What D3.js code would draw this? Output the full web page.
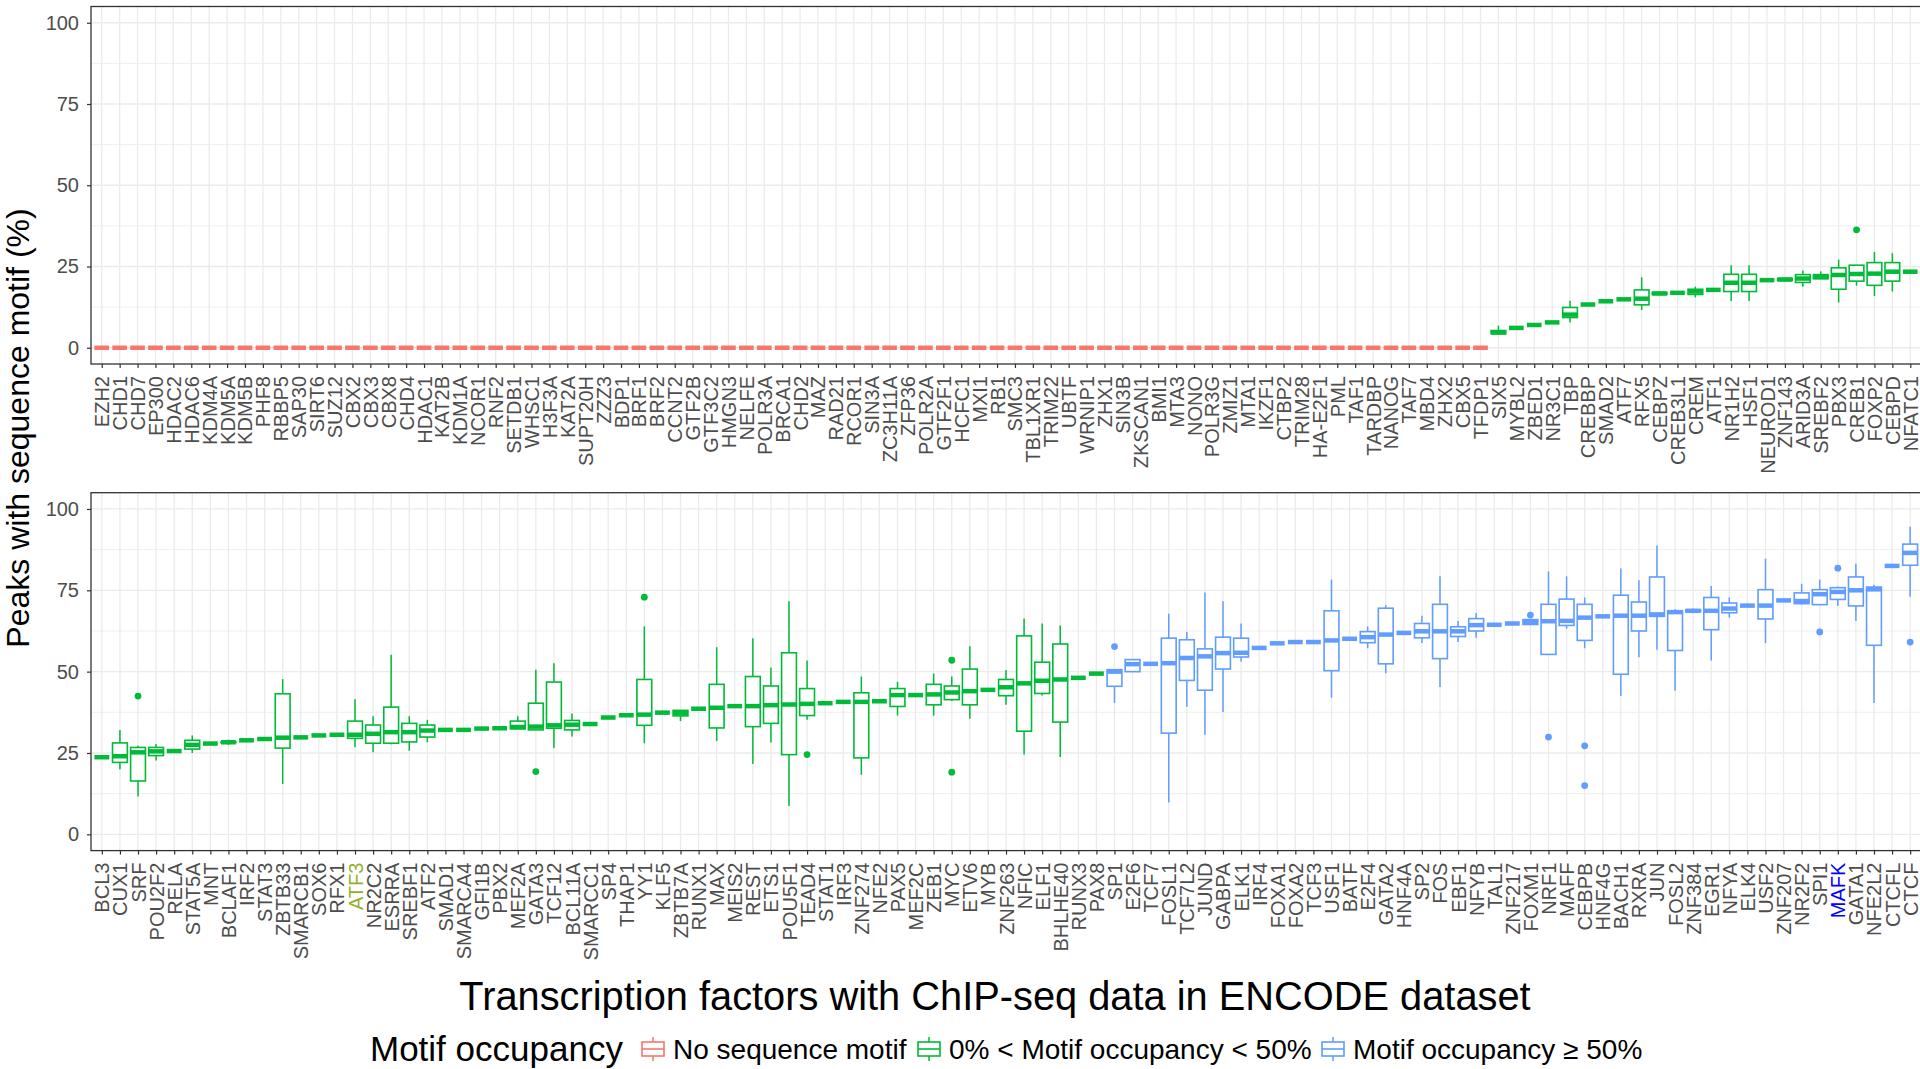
<!DOCTYPE html>
<html>
<head>
<meta charset="utf-8">
<script src="https://cdn.jsdelivr.net/npm/d3@7"></script>
<style>
body { margin: 0; background: #fff; }
svg text { font-family: "Liberation Sans", Arial, sans-serif; }
</style>
</head>
<body>
<svg id="chart" width="1920" height="1069"></svg>
<script>
// ---- data: top panel ----
var topNone = ["EZH2","CHD1","CHD7","EP300","HDAC2","HDAC6","KDM4A","KDM5A","KDM5B","PHF8","RBBP5","SAP30","SIRT6","SUZ12","CBX2","CBX3","CBX8","CHD4","HDAC1","KAT2B","KDM1A","NCOR1","RNF2","SETDB1","WHSC1","H3F3A","KAT2A","SUPT20H","ZZZ3","BDP1","BRF1","BRF2","CCNT2","GTF2B","GTF3C2","HMGN3","NELFE","POLR3A","BRCA1","CHD2","MAZ","RAD21","RCOR1","SIN3A","ZC3H11A","ZFP36","POLR2A","GTF2F1","HCFC1","MXI1","RB1","SMC3","TBL1XR1","TRIM22","UBTF","WRNIP1","ZHX1","SIN3B","ZKSCAN1","BMI1","MTA3","NONO","POLR3G","ZMIZ1","MTA1","IKZF1","CTBP2","TRIM28","HA-E2F1","PML","TAF1","TARDBP","NANOG","TAF7","MBD4","ZHX2","CBX5","TFDP1"];
var topNoneMed = [0,0,0,0,0,0,0,0,0,0,0,0,0,0,0,0,0,0,0,0,0,0,0,0,0,0,0,0,0,0,0,0,0,0,0,0,0,0,0,0,0,0,0,0,0,0,0,0,0,0,0,0,0,0,0,0,0,0,0,0,0,0,0,0,0,0,0,0,0,0,0,0,0,0,0,0,0,0];
var topLow = ["SIX5","MYBL2","ZBED1","NR3C1","TBP","CREBBP","SMAD2","ATF7","RFX5","CEBPZ","CREB3L1","CREM","ATF1","NR1H2","HSF1","NEUROD1","ZNF143","ARID3A","SREBF2","PBX3","CREB1","FOXP2","CEBPD","NFATC1"];
var topLowMed = [4.7,6.1,7.0,7.8,10.2,13.3,14.3,14.9,15.1,16.7,16.9,17.3,17.8,20.0,20.0,20.8,21.0,21.3,21.9,22.4,22.7,22.8,23.4,23.4];
// [lower whisker, q1, q3, upper whisker]
var topBoxes = {
  SIX5: [4.3, 4.3, 5.3, 6.8], TBP: [7.8, 9.3, 12.4, 14.5], RFX5: [11.6, 13.2, 17.8, 21.7],
  CEBPZ: [16.4, 16.4, 17.0, 17.0], CREM: [15.5, 16.4, 18.0, 18.8], NR1H2: [14.4, 17.3, 22.6, 25.4],
  HSF1: [14.4, 17.3, 22.6, 25.4], ZNF143: [20.4, 20.7, 21.3, 21.3], ARID3A: [18.8, 20.1, 22.5, 23.8],
  SREBF2: [21.2, 21.2, 22.5, 23.5], PBX3: [13.9, 18.0, 24.6, 27.1], CREB1: [19.1, 20.5, 25.4, 25.4],
  FOXP2: [15.9, 19.2, 26.2, 29.5], CEBPD: [17.3, 20.5, 26.2, 29.1]
};
var topOutliers = { CREB1: [36.3] };

// ---- data: bottom panel ----
var botLow = ["BCL3","CUX1","SRF","POU2F2","RELA","STAT5A","MNT","BCLAF1","IRF2","STAT3","ZBTB33","SMARCB1","SOX6","RFX1","ATF3","NR2C2","ESRRA","SREBF1","ATF2","SMAD1","SMARCA4","GFI1B","PBX2","MEF2A","GATA3","TCF12","BCL11A","SMARCC1","SP4","THAP1","YY1","KLF5","ZBTB7A","RUNX1","MAX","MEIS2","REST","ETS1","POU5F1","TEAD4","STAT1","IRF3","ZNF274","NFE2","PAX5","MEF2C","ZEB1","MYC","ETV6","MYB","ZNF263","NFIC","ELF1","BHLHE40","RUNX3","PAX8"];
var botLowMed = [23.7,24.0,25.2,25.5,25.6,27.5,27.9,28.3,28.9,29.3,29.7,29.8,30.4,30.6,30.6,30.9,31.4,31.4,31.9,32.1,32.1,32.5,32.6,33.0,33.1,33.5,33.7,33.9,35.9,36.6,36.8,37.4,37.3,38.6,38.9,39.4,39.4,39.7,39.9,40.1,40.3,40.7,40.7,40.9,42.8,42.8,43.0,43.6,44.0,44.4,45.2,46.4,47.2,47.6,48.1,49.4];
var botHigh = ["SP1","E2F6","TCF7","FOSL1","TCF7L2","JUND","GABPA","ELK1","IRF4","FOXA1","FOXA2","TCF3","USF1","BATF","E2F4","GATA2","HNF4A","SP2","FOS","EBF1","NFYB","TAL1","ZNF217","FOXM1","NRF1","MAFF","CEBPB","HNF4G","BACH1","RXRA","JUN","FOSL2","ZNF384","EGR1","NFYA","ELK4","USF2","ZNF207","NR2F2","SPI1","MAFK","GATA1","NFE2L2","CTCFL","CTCF"];
var botHighMed = [50.0,52.3,52.4,52.6,54.2,54.7,55.7,55.8,57.3,58.7,59.1,59.1,59.6,60.1,60.6,61.4,61.9,62.4,62.4,62.4,64.3,64.4,64.8,65.2,65.5,65.6,66.6,67.0,67.2,67.2,67.6,68.3,68.7,68.7,69.4,70.3,70.3,71.9,71.7,73.8,74.5,75.0,75.3,82.5,86.5];
var botBoxes = {
  CUX1: [20.0, 22.1, 28.1, 32.1], SRF: [11.6, 16.4, 26.7, 27.2], POU2F2: [22.7, 24.2, 26.7, 27.8],
  STAT5A: [25.0, 26.2, 28.9, 30.4], BCLAF1: [27.5, 28.2, 28.4, 29.1], ZBTB33: [15.5, 26.5, 43.2, 47.7],
  ATF3: [26.8, 29.5, 34.8, 41.5], NR2C2: [25.2, 28.0, 33.6, 36.3], ESRRA: [27.7, 28.0, 39.1, 55.2],
  SREBF1: [25.7, 28.4, 34.1, 36.3], ATF2: [28.3, 29.9, 33.6, 35.2], MEF2A: [32.4, 32.4, 34.8, 36.3],
  GATA3: [32.1, 32.1, 40.3, 50.6], TCF12: [26.5, 32.6, 46.8, 52.6], BCL11A: [30.1, 32.1, 35.0, 37.1],
  YY1: [28.0, 33.5, 47.6, 63.9], ZBTB7A: [34.8, 36.4, 38.1, 38.1], MAX: [28.7, 32.7, 46.1, 57.5],
  REST: [21.6, 33.1, 48.5, 60.3], ETS1: [28.2, 34.1, 45.6, 51.3], POU5F1: [8.7, 24.5, 55.8, 71.6],
  TEAD4: [35.2, 36.5, 44.8, 53.4], ZNF274: [18.3, 23.5, 43.5, 48.5], PAX5: [36.5, 39.3, 44.8, 46.9],
  ZEB1: [36.5, 39.8, 46.1, 49.4], MYC: [41.0, 41.4, 45.6, 48.5], ETV6: [35.5, 39.8, 50.8, 57.8],
  ZNF263: [39.8, 42.6, 47.6, 50.5], NFIC: [24.5, 31.7, 61.0, 66.3], ELF1: [42.7, 43.3, 52.9, 64.8],
  BHLHE40: [23.8, 34.5, 58.5, 64.2], SP1: [40.4, 45.5, 50.6, 50.6], E2F6: [50.0, 50.0, 53.7, 53.7],
  FOSL1: [9.8, 31.1, 60.3, 67.8], TCF7L2: [39.2, 47.3, 59.8, 62.2], JUND: [30.6, 44.3, 57.0, 74.3],
  GABPA: [37.6, 50.8, 60.6, 71.6], ELK1: [53.1, 54.5, 60.3, 64.8], USF1: [42.0, 50.3, 68.7, 78.3],
  E2F4: [57.2, 58.9, 62.3, 63.9], GATA2: [49.5, 52.4, 69.5, 70.4], SP2: [58.8, 60.4, 64.8, 67.2],
  FOS: [45.3, 54.0, 70.7, 79.3], EBF1: [59.1, 60.8, 63.8, 65.6], NFYB: [60.4, 62.5, 66.3, 68.0],
  FOXM1: [64.5, 64.5, 66.0, 66.0], NRF1: [55.3, 55.3, 70.7, 80.8], MAFF: [63.2, 64.2, 72.3, 79.3],
  CEBPB: [57.2, 59.6, 70.7, 72.8], BACH1: [42.5, 49.2, 73.5, 81.7], RXRA: [54.4, 62.5, 71.4, 78.1],
  JUN: [56.7, 67.0, 79.1, 88.8], FOSL2: [44.1, 56.5, 68.7, 69.2], ZNF384: [68.0, 68.4, 69.0, 69.4],
  EGR1: [53.4, 62.9, 72.8, 76.3], NFYA: [66.6, 68.1, 71.1, 72.8], USF2: [58.8, 66.2, 75.2, 84.7],
  NR2F2: [70.6, 70.9, 74.2, 77.0], SPI1: [70.6, 70.6, 75.2, 78.3], MAFK: [70.2, 72.2, 75.8, 76.2],
  GATA1: [65.6, 70.2, 79.1, 83.2], NFE2L2: [40.4, 58.1, 76.0, 76.7], CTCF: [73.0, 82.7, 89.2, 94.5]
};
var botOutliers = {
  SRF: [42.5], GATA3: [19.3], YY1: [72.9], TEAD4: [24.5], MYC: [53.5, 19.1], SP1: [57.7],
  FOXM1: [67.4], NRF1: [29.9], CEBPB: [27.2, 15.0], SPI1: [62.2], MAFK: [81.8], CTCF: [59.1]
};

var groupLabels = ["No sequence motif", "0% < Motif occupancy < 50%", "Motif occupancy \u2265 50%"];
var groupColors = ["#F8766D", "#00BA38", "#619CFF"];
var yTicks = [0, 25, 50, 75, 100];
var yMinor = [12.5, 37.5, 62.5, 87.5];
var labelColors = { ATF3: "#93B02A", MAFK: "#0000FF" };

var svg = d3.select("#chart");
var left = 91, right = 1921;

function drawPanel(groups, meds, boxes, outliers, top, bottom) {
  var names = [], rows = [];
  groups.forEach(function (g) {
    g.names.forEach(function (n, i) {
      names.push(n);
      rows.push({ name: n, med: meds[g.key][i], color: groupColors[g.key], box: boxes[n], out: outliers[n] || [] });
    });
  });

  var x = d3.scalePoint().domain(names).range([left, right]).padding(0.6);
  var y = d3.scaleLinear().domain([-5, 105]).range([bottom, top]);
  var bw = x.step() * 0.82;

  var g = svg.append("g");

  // grid
  g.selectAll(".minor").data(yMinor).enter().append("line")
    .attr("x1", left).attr("x2", right)
    .attr("y1", d => y(d)).attr("y2", d => y(d))
    .attr("stroke", "#EBEBEB").attr("stroke-width", 0.8);
  g.selectAll(".major").data(yTicks).enter().append("line")
    .attr("x1", left).attr("x2", right)
    .attr("y1", d => y(d)).attr("y2", d => y(d))
    .attr("stroke", "#EBEBEB").attr("stroke-width", 1.3);
  g.selectAll(".vgrid").data(names).enter().append("line")
    .attr("x1", d => x(d)).attr("x2", d => x(d))
    .attr("y1", top).attr("y2", bottom)
    .attr("stroke", "#EBEBEB").attr("stroke-width", 1.3);

  // boxes
  var b = g.selectAll(".box").data(rows).enter().append("g");
  b.filter(d => d.box).each(function (d) {
    var s = d3.select(this), cx = x(d.name);
    s.append("line").attr("x1", cx).attr("x2", cx)
      .attr("y1", y(d.box[3])).attr("y2", y(d.box[2]))
      .attr("stroke", d.color).attr("stroke-width", 1.5);
    s.append("line").attr("x1", cx).attr("x2", cx)
      .attr("y1", y(d.box[1])).attr("y2", y(d.box[0]))
      .attr("stroke", d.color).attr("stroke-width", 1.5);
    s.append("rect").attr("x", cx - bw / 2).attr("width", bw)
      .attr("y", y(d.box[2])).attr("height", y(d.box[1]) - y(d.box[2]))
      .attr("fill", "#fff").attr("stroke", d.color).attr("stroke-width", 1.6);
  });
  b.append("line")
    .attr("x1", d => x(d.name) - bw / 2).attr("x2", d => x(d.name) + bw / 2)
    .attr("y1", d => y(d.med)).attr("y2", d => y(d.med))
    .attr("stroke", d => d.color).attr("stroke-width", 4.5);
  b.each(function (d) {
    d3.select(this).selectAll("circle").data(d.out).enter().append("circle")
      .attr("cx", x(d.name)).attr("cy", v => y(v)).attr("r", 3.4)
      .attr("fill", d.color);
  });

  // border
  g.append("rect").attr("x", left).attr("y", top)
    .attr("width", right - left).attr("height", bottom - top)
    .attr("fill", "none").attr("stroke", "#333333").attr("stroke-width", 1.3);

  // axes
  var ya = g.append("g").attr("transform", "translate(" + left + ",0)")
    .call(d3.axisLeft(y).tickValues(yTicks).tickSize(4).tickPadding(8));
  ya.select(".domain").remove();
  ya.selectAll("line").attr("stroke", "#333333").attr("stroke-width", 1.2);
  ya.selectAll("text").attr("fill", "#4D4D4D").style("font-size", "20px");

  var xa = g.append("g").attr("transform", "translate(0," + bottom + ")")
    .call(d3.axisBottom(x).tickSize(4));
  xa.select(".domain").remove();
  xa.selectAll("line").attr("stroke", "#333333").attr("stroke-width", 1.2);
  xa.selectAll("text")
    .attr("transform", "rotate(-90)")
    .attr("x", -12).attr("y", 0).attr("dy", "0.35em")
    .style("text-anchor", "end").style("font-size", "20px")
    .attr("fill", d => labelColors[d] || "#4D4D4D");
}

drawPanel([{ key: 0, names: topNone }, { key: 1, names: topLow }],
  [topNoneMed, topLowMed], topBoxes, topOutliers, 6.5, 364);
drawPanel([{ key: 1, names: botLow }, { key: 2, names: botHigh }],
  [null, botLowMed, botHighMed], botBoxes, botOutliers, 492.7, 850.6);

// titles
svg.append("text")
  .attr("transform", "translate(18,428) rotate(-90)")
  .attr("text-anchor", "middle").attr("dy", "0.35em")
  .style("font-size", "32px").attr("fill", "#000")
  .text("Peaks with sequence motif (%)");
svg.append("text")
  .attr("x", 995).attr("y", 996)
  .attr("text-anchor", "middle").attr("dy", "0.35em")
  .style("font-size", "39.8px").attr("fill", "#000")
  .text("Transcription factors with ChIP-seq data in ENCODE dataset");

// legend
var legY = 1049;
var legend = svg.append("g");
legend.append("text").attr("x", 370).attr("y", legY).attr("dy", "0.35em")
  .style("font-size", "35px").text("Motif occupancy");
var keyX = [639, 915, 1319];
groupLabels.forEach(function (lab, i) {
  var k = legend.append("g").attr("transform", "translate(" + keyX[i] + "," + (legY - 14) + ")");
  var c = groupColors[i];
  k.append("line").attr("x1", 14).attr("x2", 14).attr("y1", 2).attr("y2", 26)
    .attr("stroke", c).attr("stroke-width", 1.5);
  k.append("rect").attr("x", 3).attr("y", 7).attr("width", 22).attr("height", 14)
    .attr("fill", "#fff").attr("stroke", c).attr("stroke-width", 1.6);
  k.append("line").attr("x1", 3).attr("x2", 25).attr("y1", 14).attr("y2", 14)
    .attr("stroke", c).attr("stroke-width", 1.6);
  legend.append("text").attr("x", keyX[i] + 34).attr("y", legY).attr("dy", "0.35em")
    .style("font-size", "28px").text(lab);
});
</script>
</body>
</html>
